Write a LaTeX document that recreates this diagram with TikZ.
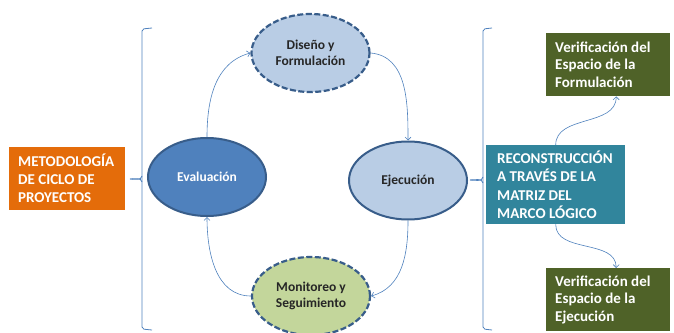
\documentclass[tikz,border=0pt]{standalone}
\usepackage{fontspec}
\setmainfont{Carlito}
\usetikzlibrary{shapes.geometric, arrows.meta}

\definecolor{ciclo}{HTML}{E46C0A}
\definecolor{matriz}{HTML}{31859C}
\definecolor{verif}{HTML}{4F6228}
\definecolor{azul}{HTML}{4F81BD}
\definecolor{borde}{HTML}{385D8A}
\definecolor{celeste}{HTML}{B9CDE5}
\definecolor{verde}{HTML}{C3D69B}
\definecolor{texto}{HTML}{262626}

\begin{document}
\begin{tikzpicture}[x=1pt, y=1pt,
    fase/.style={ellipse, minimum width=118pt, minimum height=78pt, inner sep=0pt,
      align=flush center, line width=2pt, draw=borde, text=texto,
      font=\bfseries\fontsize{13.5}{16}\selectfont},
    trazo/.style={dash pattern=on 6pt off 2.5pt, line width=2.2pt},
    caja/.style={anchor=north west, minimum height=63pt, inner xsep=9pt, inner ysep=0pt,
      align=flush left, text=white, font=\bfseries\fontsize{15}{18}\selectfont},
    flecha/.style={draw=azul, line width=0.6pt, -{Straight Barb[length=3pt,width=6pt]}},
    llave/.style={draw=azul, line width=0.8pt}]
    \useasboundingbox (0,0) rectangle (674,-332);

    % ciclo de proyectos
    \node[fase, fill=azul, text=white] (eval) at (207,-177)   {Evaluación};
    \node[fase, trazo, fill=celeste]   (dis)  at (310.5,-53)  {Diseño y\\Formulación};
    \node[fase, fill=celeste]          (eje)  at (408,-180.5) {Ejecución};
    \node[fase, trazo, fill=verde]     (mon)  at (311,-296)   {Monitoreo y\\Seguimiento};

    \draw[flecha] (eval.north) to[out=90, in=195] (dis.west);
    \draw[flecha] (dis.east)   to[out=-5, in=90]  (eje.north);
    \draw[flecha] (eje.south)  to[out=-90, in=15] (mon.east);
    \draw[flecha] (mon.west)   to[out=180, in=-90] (eval.south);

    % cajas
    \node[caja, fill=ciclo, text width=98pt] (met) at (9,-147)
        {METODOLOGÍA\\DE CICLO DE\\PROYECTOS};
    \node[caja, fill=matriz, text width=117pt, inner xsep=11pt, minimum height=79pt,
        font=\bfseries\fontsize{15}{18.5}\selectfont] (rec) at (486,-145)
        {RECONSTRUCCIÓN\\A TRAVÉS DE LA\\MATRIZ DEL\\MARCO LÓGICO};
    \node[caja, fill=verif, text width=106pt,
        font=\bfseries\fontsize{15}{17.5}\selectfont] (vfor) at (546,-33)
        {Verificación del\\Espacio de la\\Formulación};
    \node[caja, fill=verif, text width=106pt,
        font=\bfseries\fontsize{15}{17.5}\selectfont] (veje) at (546,-268)
        {Verificación del\\Espacio de la\\Ejecución};

    \draw[flecha] (rec.north) to[out=90, in=-90]  ([xshift=8pt]vfor.south);
    \draw[flecha] (rec.south) to[out=-90, in=90]  ([xshift=8pt]veje.north);

    % llaves
    \draw[llave, rounded corners=2pt] (152,-28) -- (142,-29) -- (142,-329) -- (152,-330);
    \draw[llave] (142,-176) to[out=-100, in=0] (130,-179);
    \draw[llave] (142,-182) to[out=100, in=0] (130,-179);
    \draw[llave, rounded corners=2pt] (492,-28) -- (483,-29) -- (483,-329) -- (492,-330);
    \draw[llave] (483,-177) to[out=-100, in=0] (470,-180);
    \draw[llave] (483,-183) to[out=100, in=0] (470,-180);
\end{tikzpicture}
\end{document}
